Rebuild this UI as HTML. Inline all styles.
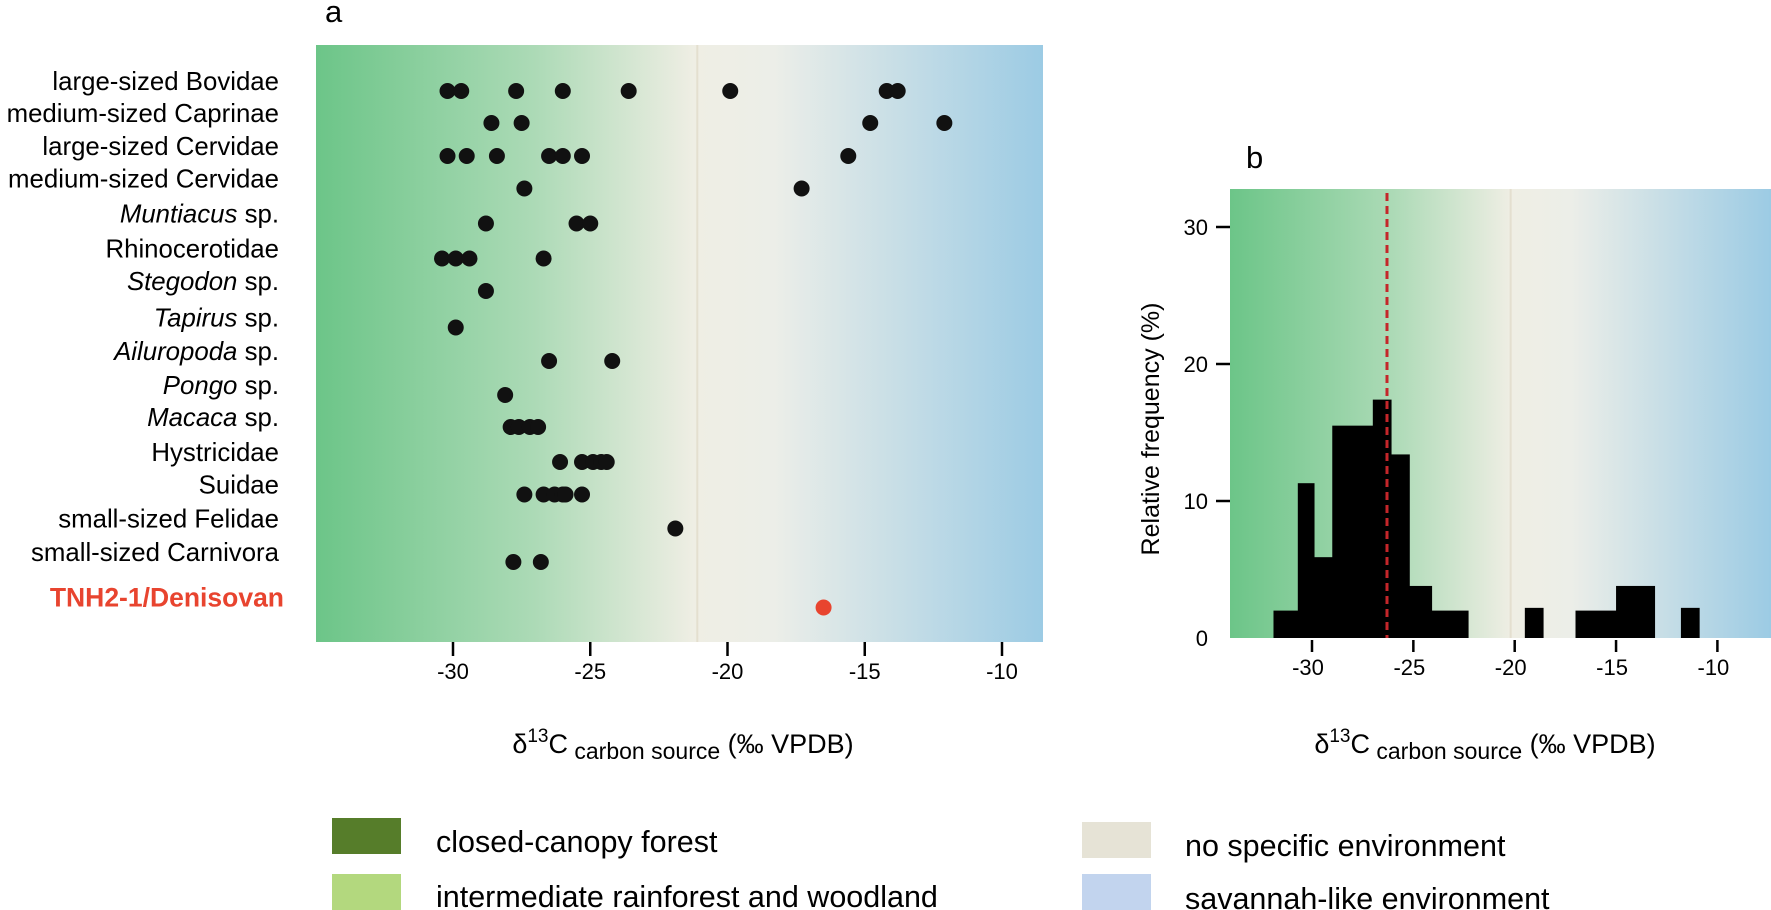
<!DOCTYPE html>
<html><head><meta charset="utf-8"><style>
html,body{margin:0;padding:0;background:#fff;}
svg{display:block;font-family:"Liberation Sans",Arial,sans-serif;}
</style></head><body>
<svg id="fig" width="1771" height="910" viewBox="0 0 1771 910" xmlns="http://www.w3.org/2000/svg">
<defs>
<linearGradient id="gA" x1="0" x2="1" y1="0" y2="0">
<stop offset="0" stop-color="#6cc588"/><stop offset="0.3" stop-color="#acdab6"/><stop offset="0.52" stop-color="#efeee4"/><stop offset="0.63" stop-color="#eceee8"/><stop offset="1" stop-color="#9ccbe4"/>
</linearGradient>
<linearGradient id="gB" x1="0" x2="1" y1="0" y2="0">
<stop offset="0" stop-color="#6cc588"/><stop offset="0.3" stop-color="#acdab6"/><stop offset="0.52" stop-color="#efeee4"/><stop offset="0.63" stop-color="#eceee8"/><stop offset="1" stop-color="#9ccbe4"/>
</linearGradient>
</defs>
<text x="325" y="22" font-size="31">a</text>
<text x="1246" y="168" font-size="31">b</text>
<rect x="316" y="45" width="727" height="597" fill="url(#gA)"/>
<rect x="1230" y="189" width="541" height="449" fill="url(#gB)"/>
<g id="pa"></g>
<g id="pb"></g>
<text x="683" y="753" font-size="27" text-anchor="middle">δ<tspan dy="-11" font-size="19">13</tspan><tspan dy="11">C</tspan><tspan dy="6" font-size="23"> carbon source</tspan><tspan dy="-6"> (‰ VPDB)</tspan></text>
<text x="1485" y="753" font-size="27" text-anchor="middle">δ<tspan dy="-11" font-size="19">13</tspan><tspan dy="11">C</tspan><tspan dy="6" font-size="23"> carbon source</tspan><tspan dy="-6"> (‰ VPDB)</tspan></text>
<text transform="translate(1159,429) rotate(-90)" font-size="25" text-anchor="middle">Relative frequency (%)</text>
<g>
<rect x="332" y="818" width="69" height="36" fill="#567d2a"/>
<text x="436" y="852" font-size="30.5">closed-canopy forest</text>
<rect x="332" y="874" width="69" height="36" fill="#b3d87e"/>
<text x="436" y="907" font-size="30.5">intermediate rainforest and woodland</text>
<rect x="1082" y="822" width="69" height="36" fill="#e6e3d6"/>
<text x="1185" y="856" font-size="30.5">no specific environment</text>
<rect x="1082" y="874" width="69" height="36" fill="#c2d4ee"/>
<text x="1185" y="909" font-size="30.5">savannah-like environment</text>
</g>
</svg>
<script>
const taxa = ["large-sized Bovidae","medium-sized Caprinae","large-sized Cervidae","medium-sized Cervidae","Muntiacus sp.","Rhinocerotidae","Stegodon sp.","Tapirus sp.","Ailuropoda sp.","Pongo sp.","Macaca sp.","Hystricidae","Suidae","small-sized Felidae","small-sized Carnivora","TNH2-1/Denisovan"];
const italicGenus = [false,false,false,false,true,false,true,true,true,true,true,false,false,false,false,false];
const values = [
 [-30.2,-29.7,-27.7,-26.0,-23.6,-19.9,-14.2,-13.8],
 [-28.6,-27.5,-14.8,-12.1],
 [-30.2,-29.5,-28.4,-26.5,-26.0,-25.3,-15.6],
 [-27.4,-17.3],
 [-28.8,-25.5,-25.0],
 [-30.4,-29.9,-29.4,-26.7],
 [-28.8],
 [-29.9],
 [-26.5,-24.2],
 [-28.1],
 [-27.9,-27.6,-27.2,-26.9],
 [-26.1,-25.3,-24.9,-24.6,-24.4],
 [-27.4,-26.7,-26.3,-26.0,-25.9,-25.3],
 [-21.9],
 [-27.8,-26.8],
 [-16.5]
];
const rowY = [91,123,156,188.5,223.5,258.5,291,327.5,361,395,427,462,494.5,528.5,562,607.5];
const xTicks = [-30,-25,-20,-15,-10];
const binStart = [-31.9,-30.7,-29.9,-29.0,-27.0,-26.1,-25.2,-24.1,-19.5,-17.0,-15.0,-11.8];
const binEnd   = [-30.7,-29.9,-29.0,-27.0,-26.1,-25.2,-24.1,-22.3,-18.6,-15.0,-13.1,-10.9];
const binFreq  = [2.0,11.3,5.9,15.5,17.4,13.4,3.8,2.0,2.2,2.0,3.8,2.2];
const yTicks = [0,10,20,30];
const meanValue = -26.3;
const NS="http://www.w3.org/2000/svg";
function mk(p,t,a){const e=document.createElementNS(NS,t);for(const k in a)e.setAttribute(k,a[k]);p.appendChild(e);return e;}
const xa = v => 453 + (v + 30) * 27.45;
const xb = v => 1312 + (v + 30) * 20.27;
const yb = v => 638 - v * 13.7;
const pa=document.getElementById('pa'), pb=document.getElementById('pb');
let s1=mk(pa,'line',{x1:xa(-21.1),x2:xa(-21.1),y1:45,y2:642,stroke:'#e4dfcf','stroke-width':2});


let s2=mk(pb,'line',{x1:xb(-20.2),x2:xb(-20.2),y1:189,y2:638,stroke:'#e4dfcf','stroke-width':2});


taxa.forEach((t,i)=>{
  const den = i===taxa.length-1;
  const tx=mk(pa,'text',{x:den?284:279,y:rowY[i]-1,'font-size':den?26.5:25.8,'text-anchor':'end',fill:den?'#e8442f':'#000','font-weight':den?'bold':'normal'});
  
  
  if(italicGenus[i]){const parts=t.split(' ');const a=mk(tx,'tspan',{'font-style':'italic'});a.textContent=parts[0];const b=mk(tx,'tspan',{});b.textContent=' '+parts.slice(1).join(' ');}
  else tx.textContent=t;
  values[i].forEach(v=>{
    const c=mk(pa,'circle',{cx:xa(v),cy:rowY[i],r:8,fill:den?'#e8442f':'#111'});
    
    
  });
});
xTicks.forEach(v=>{
  const l=mk(pa,'line',{x1:xa(v),x2:xa(v),y1:642,y2:656,stroke:'#000','stroke-width':2.5});
  
  
  const t=mk(pa,'text',{x:xa(v),y:679,'font-size':22,'text-anchor':'middle'});
  
  
  t.textContent=v;
});
binFreq.forEach((f,i)=>{
  const r=mk(pb,'rect',{x:xb(binStart[i]),y:yb(f),width:xb(binEnd[i])-xb(binStart[i])+0.5,height:yb(0)-yb(f),fill:'#000'});
  
  
});
const ml=mk(pb,'line',{x1:xb(meanValue),x2:xb(meanValue),y1:193,y2:638,stroke:'#c4262a','stroke-width':3,'stroke-dasharray':'8,5'});


xTicks.forEach(v=>{
  const l=mk(pb,'line',{x1:xb(v),x2:xb(v),y1:640,y2:652,stroke:'#000','stroke-width':2.5});
  
  
  const t=mk(pb,'text',{x:xb(v)-4,y:675,'font-size':22,'text-anchor':'middle'});
  
  
  t.textContent=v;
});
yTicks.forEach(v=>{
  if(v>0){const l=mk(pb,'line',{x1:1216,x2:1230,y1:yb(v),y2:yb(v),stroke:'#000','stroke-width':2.5});
  
  }
  const t=mk(pb,'text',{x:1208,y:yb(v)+8,'font-size':22,'text-anchor':'end'});
  
  
  t.textContent=v;
});
</script>
</body></html>
